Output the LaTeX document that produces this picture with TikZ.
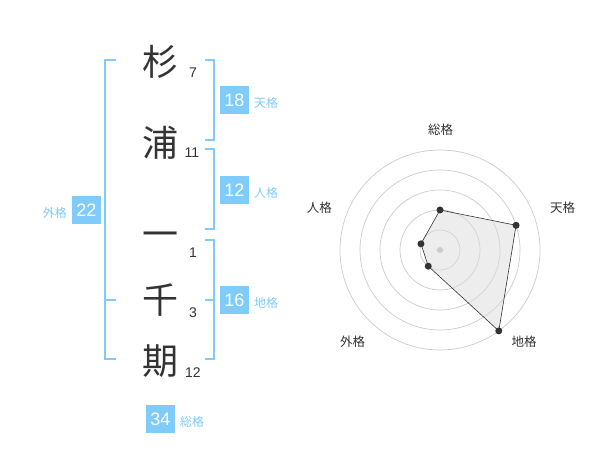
\documentclass[tikz,border=0pt]{standalone}
\usepackage{fontspec}
\setmainfont{Liberation Sans}
\newfontfamily\jp{Noto Sans CJK JP}
\usetikzlibrary{calc}
\definecolor{skyb}{RGB}{127,204,250}
\definecolor{ink}{RGB}{51,51,51}
\definecolor{ringc}{RGB}{204,204,204}
\definecolor{areac}{RGB}{220,220,220}
\tikzset{
  kanji/.style={font=\jp\fontsize{36}{36}\selectfont, text=ink, inner sep=0pt},
  strokes/.style={font=\fontsize{14}{14}\selectfont, text=ink, inner sep=0pt},
  numbox/.style={fill=skyb, text=white, minimum width=29pt, minimum height=28pt, inner sep=0pt, font=\fontsize{18}{18}\selectfont},
  kaku/.style={font=\jp\fontsize{12}{12}\selectfont, text=skyb, inner sep=0pt},
  brk/.style={draw=skyb, line width=2pt},
  ring/.style={draw=ringc, line width=0.7pt},
  axlabel/.style={font=\jp\fontsize{12.5}{12.5}\selectfont, text=ink, inner sep=0pt},
  vdot/.style={circle, fill=ink, minimum size=7pt, inner sep=0pt},
}
\begin{document}
\begin{tikzpicture}[x=1pt,y=-1pt]
\useasboundingbox[fill=white] (0,0) rectangle (600,470);
% kanji
\node[kanji] (k1) at (160,62) {杉};
\node[kanji] (k2) at (160,143) {浦};
\node[kanji] (k3) at (160,240) {一};
\node[kanji] (k4) at (160,300) {千};
\node[kanji] (k5) at (160,361) {期};
\node[strokes] (s1) at (193,73) {7};
\node[strokes] (s2) at (192,153) {11};
\node[strokes] (s3) at (193,253) {1};
\node[strokes] (s4) at (193,313) {3};
\node[strokes] (s5) at (193,373) {12};
% brackets
\draw[brk] (116,60) -- (105,60) -- (105,359) -- (116,359);
\draw[brk] (105,300) -- (116,300);
\draw[brk] (205,60) -- (214,60) -- (214,140) -- (205,140);
\draw[brk] (205,149) -- (214,149) -- (214,229) -- (205,229);
\draw[brk] (205,240) -- (214,240) -- (214,359) -- (205,359);
\draw[brk] (205,300) -- (214,300);
% boxes
\node[numbox] (b1) at (234.5,100) {18};
\node[kaku, anchor=west] (l1) at (254,103) {天格};
\node[numbox] (b2) at (234.5,190) {12};
\node[kaku, anchor=west] (l2) at (254,193) {人格};
\node[numbox] (b3) at (234.5,300) {16};
\node[kaku, anchor=west] (l3) at (254,303) {地格};
\node[numbox] (b4) at (86.5,210) {22};
\node[kaku, anchor=east] (l4) at (67,213) {外格};
\node[numbox] (b5) at (160.5,419) {34};
\node[kaku, anchor=west] (l5) at (180,422) {総格};
% radar
\coordinate (c) at (440,250);
\foreach \r in {20,40,60,80,100} \draw[ring] (c) circle[radius=\r];
\coordinate (p1) at ($(c)+(-90:40)$);
\coordinate (p2) at ($(c)+(-18:80)$);
\coordinate (p3) at ($(c)+(54:100)$);
\coordinate (p4) at ($(c)+(126:20)$);
\coordinate (p5) at ($(c)+(-162:20)$);
\fill[areac, opacity=0.5] (p1) -- (p2) -- (p3) -- (p4) -- (p5) -- cycle;
\node[circle, fill=ringc, minimum size=6pt, inner sep=0pt] (cd) at (c) {};
\draw[ink, line width=0.6pt] (p1) -- (p2) -- (p3) -- (p4) -- (p5) -- cycle;
\foreach \i in {1,...,5} \node[vdot] (d\i) at (p\i) {};
\node[axlabel] (a1) at (440.7,130) {総格};
\node[axlabel] (a2) at (562.7,208) {天格};
\node[axlabel] (a3) at (524,342) {地格};
\node[axlabel] (a4) at (352.7,342) {外格};
\node[axlabel] (a5) at (319.3,208) {人格};
\end{tikzpicture}
\end{document}
